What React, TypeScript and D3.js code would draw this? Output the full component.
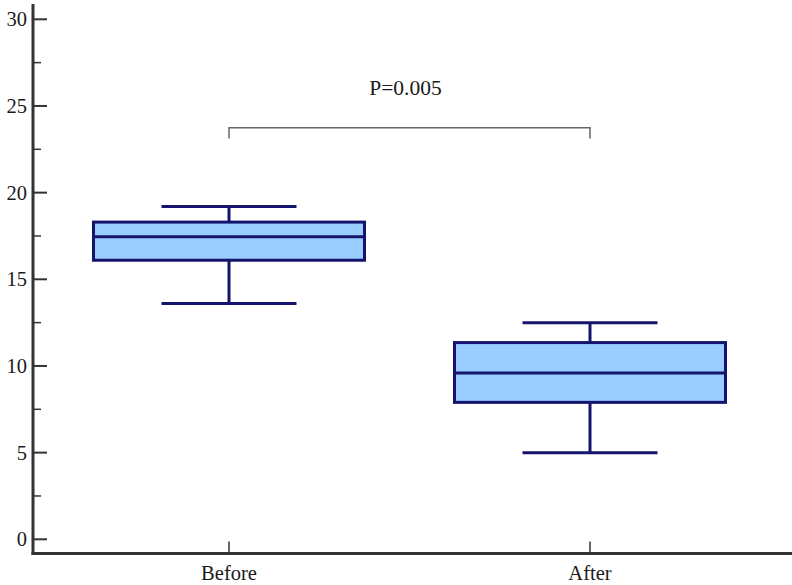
import React from "react";
import * as d3 from "d3";

const categories = ["Before", "After"];
const whiskerLow = [13.6, 5.0];
const q1 = [16.1, 7.9];
const medians = [17.45, 9.6];
const q3 = [18.3, 11.35];
const whiskerHigh = [19.2, 12.5];
const yMajorTicks = [0, 5, 10, 15, 20, 25, 30];
const yMinorTicks = [2.5, 7.5, 12.5, 17.5, 22.5, 27.5];
const pLabel = "P=0.005";
const bracketLevel = 23.75;
const bracketDrop = 0.62;

const W = 792;
const H = 585;
const axisX = 33;
const axisY = 553.5;

export default function App() {
  const y = d3.scaleLinear().domain([0, 30]).range([539.3, 19.3]);
  const x = d3.scalePoint<string>().domain(categories).range([229, 590]);
  const boxW = 271;
  const capW = 135;
  const boxColor = "#14146e";
  const font = "'Liberation Serif', 'Times New Roman', serif";

  return (
    <svg width={W} height={H} style={{ position: "absolute", left: 0, top: 0 }}>
      <rect width={W} height={H} fill="#fff" />
      {/* axes */}
      <line x1={axisX} x2={axisX} y1={4} y2={axisY + 1.5} stroke="#333" strokeWidth={3} />
      <line x1={axisX - 1.5} x2={W} y1={axisY} y2={axisY} stroke="#333" strokeWidth={3} />
      {yMajorTicks.map((t) => (
        <g key={"M" + t}>
          <line x1={axisX} x2={axisX + 14} y1={y(t)} y2={y(t)} stroke="#333" strokeWidth={2} />
          <text x={27} y={y(t)} dy="0.35em" textAnchor="end" fontFamily={font} fontSize={20.5} fill="#1a1a1a">
            {t}
          </text>
        </g>
      ))}
      {yMinorTicks.map((t) => (
        <line key={"m" + t} x1={axisX} x2={axisX + 8} y1={y(t)} y2={y(t)} stroke="#333" strokeWidth={1.5} />
      ))}
      {categories.map((c) => (
        <g key={"x" + c}>
          <line x1={x(c)!} x2={x(c)!} y1={axisY} y2={axisY - 12} stroke="#333" strokeWidth={1.5} />
          <text x={x(c)!} y={580} textAnchor="middle" fontFamily={font} fontSize={20.5} fill="#1a1a1a">
            {c}
          </text>
        </g>
      ))}
      {/* boxes */}
      {categories.map((c, i) => {
        const cx = x(c)!;
        return (
          <g key={"b" + c} stroke={boxColor} strokeWidth={3} fill="none">
            <line x1={cx} x2={cx} y1={y(whiskerHigh[i])} y2={y(q3[i])} />
            <line x1={cx} x2={cx} y1={y(q1[i])} y2={y(whiskerLow[i])} />
            <line x1={cx - capW / 2} x2={cx + capW / 2} y1={y(whiskerHigh[i])} y2={y(whiskerHigh[i])} />
            <line x1={cx - capW / 2} x2={cx + capW / 2} y1={y(whiskerLow[i])} y2={y(whiskerLow[i])} />
            <rect
              x={cx - boxW / 2}
              y={y(q3[i])}
              width={boxW}
              height={y(q1[i]) - y(q3[i])}
              fill="#99ccff"
            />
            <line x1={cx - boxW / 2} x2={cx + boxW / 2} y1={y(medians[i])} y2={y(medians[i])} />
          </g>
        );
      })}
      {/* significance bracket */}
      <path
        d={`M${x(categories[0])},${y(bracketLevel - bracketDrop)}V${y(bracketLevel)}H${x(categories[1])}V${y(bracketLevel - bracketDrop)}`}
        fill="none"
        stroke="#666"
        strokeWidth={1.5}
      />
      <text
        x={(x(categories[0])! + x(categories[1])!) / 2 - 4}
        y={95}
        textAnchor="middle"
        fontFamily={font}
        fontSize={21.5}
        fill="#1a1a1a"
      >
        {pLabel}
      </text>
    </svg>
  );
}
